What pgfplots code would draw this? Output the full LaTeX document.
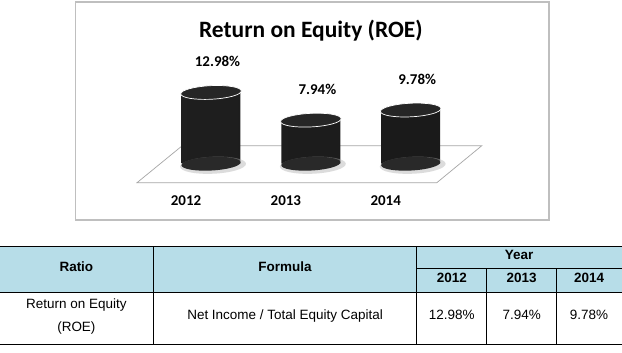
\documentclass[border=0pt]{standalone}
\usepackage{pgfplots}
\pgfplotsset{compat=1.18}
\usepackage{pgfplotstable}
\usepackage{fontspec}
\setmainfont{Carlito}
\newfontfamily\arial{Liberation Sans}
\definecolor{hdr}{HTML}{B7DDE8}
\definecolor{framegray}{HTML}{BFBFBF}
\definecolor{floorgray}{HTML}{A6A6A6}

\pgfdeclareplotmark{cyltop}{\pgfpathellipse{\pgfpointorigin}{\pgfqpoint{30.3pt}{1.5pt}}{\pgfqpoint{-0.3pt}{6.8pt}}\pgfusepathqfillstroke}
\pgfdeclareplotmark{cylbot}{\pgfpathellipse{\pgfpointorigin}{\pgfqpoint{29.6pt}{1.5pt}}{\pgfqpoint{-0.3pt}{6.8pt}}\pgfusepathqfill}
\pgfdeclareplotmark{cylshadow}{\pgfpathellipse{\pgfpoint{2pt}{-1.5pt}}{\pgfqpoint{33pt}{1.5pt}}{\pgfqpoint{-0.3pt}{8.5pt}}\pgfusepathqfill}

\pgfplotstableread{
idx year roe
0 2012 12.98
1 2013 7.94
2 2014 9.78
}\roedata

\begin{document}
\begin{tikzpicture}
\begin{axis}[width=622pt, height=353pt, scale only axis, hide axis,
  xmin=0, xmax=622, ymin=0, ymax=353, clip=false]
  \fill[white] (axis cs:0,0) rectangle (axis cs:622,353);
  % chart frame
  \draw[framegray, line width=1.3pt] (axis cs:75,351) rectangle (axis cs:549.5,132.5);
  % floor
  \draw[floorgray, line width=0.7pt] (axis cs:136.7,170) -- (axis cs:437,170) -- (axis cs:482,207) -- (axis cs:182,207) -- cycle;
  % title
  \node[anchor=base, font=\fontsize{23.5}{27}\selectfont\bfseries] at (axis cs:310.8,315.7) {Return on Equity (ROE)};
  % table
  \fill[hdr] (axis cs:0,106) rectangle (axis cs:622,60);
  \draw[line width=1pt] (axis cs:0,106) -- (axis cs:622,106);
  \draw[line width=1pt] (axis cs:0,60) -- (axis cs:622,60);
  \draw[line width=1pt] (axis cs:0,8) -- (axis cs:622,8);
  \draw[line width=1pt] (axis cs:153,106) -- (axis cs:153,8);
  \draw[line width=1pt] (axis cs:416.7,106) -- (axis cs:416.7,8);
  \draw[line width=1pt] (axis cs:416.7,84) -- (axis cs:622,84);
  \draw[line width=1pt] (axis cs:487,84) -- (axis cs:487,8);
  \draw[line width=1pt] (axis cs:557,84) -- (axis cs:557,8);
  \begin{scope}[every node/.style={anchor=base, font=\arial\fontsize{13.5}{16}\selectfont}]
    \node[font=\arial\fontsize{13.5}{16}\selectfont\bfseries] at (axis cs:76,81.5) {Ratio};
    \node[font=\arial\fontsize{13.5}{16}\selectfont\bfseries] at (axis cs:285,81.5) {Formula};
    \node[font=\arial\fontsize{13.5}{16}\selectfont\bfseries] at (axis cs:519.5,93) {Year};
    \node[font=\arial\fontsize{13.5}{16}\selectfont\bfseries] at (axis cs:452,70.3) {2012};
    \node[font=\arial\fontsize{13.5}{16}\selectfont\bfseries] at (axis cs:522,70.3) {2013};
    \node[font=\arial\fontsize{13.5}{16}\selectfont\bfseries] at (axis cs:589.5,70.3) {2014};
    \node at (axis cs:76,44) {Return on Equity};
    \node at (axis cs:76,21.3) {(ROE)};
    \node at (axis cs:285,33) {Net Income / Total Equity Capital};
    \node at (axis cs:452,33) {12.98\%};
    \node at (axis cs:522,33) {7.94\%};
    \node at (axis cs:589.5,33) {9.78\%};
  \end{scope}
\end{axis}

\begin{axis}[width=622pt, height=353pt, scale only axis, hide axis,
  xmin=-2.1085, xmax=4.1115, ymin=-34.3636, ymax=29.8182, clip=false,
  /pgf/number format/assume math mode=true]
  \addplot[only marks, mark=cylshadow, mark options={fill=black!30, draw=none, opacity=0.45}] table[x=idx, y expr=0] {\roedata};
  \addplot[only marks, mark=cylbot, mark options={fill=black!84, draw=none}] table[x=idx, y expr=0] {\roedata};
  \addplot[ybar, bar width=59pt, draw=none, left color=black!88, middle color=black!68, right color=black!90] table[x=idx, y=roe] {\roedata};
  \addplot[only marks, mark=cyltop, mark options={fill=black!85, draw=white, line width=0.7pt},
    nodes near coords={\pgfmathprintnumber[fixed, fixed zerofill, precision=2]{\pgfplotspointmeta}\%},
    nodes near coords style={anchor=base, yshift=26pt, xshift=6.5pt, text=black, font=\fontsize{15}{18}\selectfont\bfseries}]
    table[x=idx, y=roe] {\roedata};
  \node[anchor=base, font=\fontsize{15}{18}\selectfont\bfseries] at (axis cs:-0.25,-7.64) {2012};
  \node[anchor=base, font=\fontsize{15}{18}\selectfont\bfseries] at (axis cs:0.75,-7.64) {2013};
  \node[anchor=base, font=\fontsize{15}{18}\selectfont\bfseries] at (axis cs:1.75,-7.64) {2014};
\end{axis}
\end{tikzpicture}
\end{document}
